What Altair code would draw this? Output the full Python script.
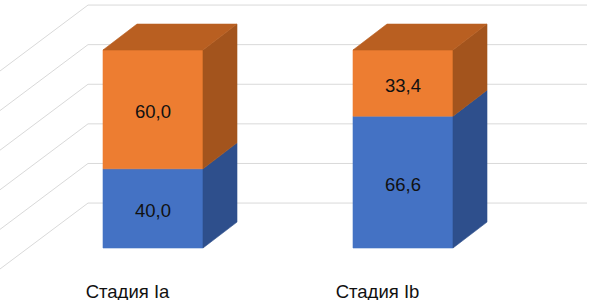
import altair as alt
import pandas as pd

categories = ["Стадия Ia", "Стадия Ib"]
blue_values = [40.0, 66.6]
orange_values = [60.0, 33.4]
tick_values = [0, 20, 40, 60, 80, 100]

# projection / style constants (data units)
BAR_W = 0.4
DX, DY = 0.136, 13.1          # bar depth offset
WALL_DY = 22.7                # back wall offset
WALL_X, WALL_X2 = -0.26, 1.736
SIDE_DX, SIDE_DY = -0.352, -33.3
LABEL_DX, LABEL_Y = -0.102, -25.0

XDOM = [-0.612, 1.752]
YDOM = [-26.26, 125.25]

colors = {
    "blue_front": "#4472C4", "orange_front": "#ED7D31",
    "blue_side": "#2E4F8C", "orange_side": "#A3541D",
    "orange_top": "#B95F21",
}

fmt = lambda v: f"{v:.1f}".replace(".", ",")

front, side, top, labels = [], [], [], []
for i, cat in enumerate(categories):
    segs = [("blue", 0.0, blue_values[i]),
            ("orange", blue_values[i], blue_values[i] + orange_values[i])]
    for s, lo, hi in segs:
        front.append(dict(x=i - BAR_W / 2, x2=i + BAR_W / 2, y=lo, y2=hi, face=f"{s}_front"))
        sid = f"{cat}-{s}"
        side.append(dict(id=sid, x=i + BAR_W / 2, lo=lo, hi=hi, face=f"{s}_side"))
        side.append(dict(id=sid, x=i + BAR_W / 2 + DX, lo=lo + DY, hi=hi + DY, face=f"{s}_side"))
        labels.append(dict(x=i, y=(lo + hi) / 2, text=fmt(hi - lo)))
    ttop = segs[-1][2]
    top.append(dict(id=cat, y=ttop, xl=i - BAR_W / 2, xr=i + BAR_W / 2, face="orange_top"))
    top.append(dict(id=cat, y=ttop + DY, xl=i - BAR_W / 2 + DX, xr=i + BAR_W / 2 + DX, face="orange_top"))

grid_h = pd.DataFrame([dict(x=WALL_X, x2=WALL_X2, y=v + WALL_DY) for v in tick_values])
grid_d = pd.DataFrame([dict(x=WALL_X, y=v + WALL_DY, x2=WALL_X + SIDE_DX, y2=v + WALL_DY + SIDE_DY)
                       for v in tick_values])
cat_df = pd.DataFrame([dict(x=i + LABEL_DX, y=LABEL_Y, text=c) for i, c in enumerate(categories)])

xs = alt.Scale(domain=XDOM, nice=False, zero=False)
ys = alt.Scale(domain=YDOM, nice=False, zero=False)
cs = alt.Scale(domain=list(colors.keys()), range=list(colors.values()))
color = alt.Color("face:N", scale=cs, legend=None)

gh = alt.Chart(grid_h).mark_rule(color="#D9D9D9", strokeWidth=1).encode(
    x=alt.X("x:Q", scale=xs, axis=None), x2="x2:Q", y=alt.Y("y:Q", scale=ys, axis=None))
gd = alt.Chart(grid_d).mark_rule(color="#D9D9D9", strokeWidth=1).encode(
    x=alt.X("x:Q", scale=xs, axis=None), x2="x2:Q",
    y=alt.Y("y:Q", scale=ys, axis=None), y2="y2:Q")

fr = alt.Chart(pd.DataFrame(front)).mark_rect(strokeWidth=0.6).encode(
    x=alt.X("x:Q", scale=xs, axis=None), x2="x2:Q",
    y=alt.Y("y:Q", scale=ys, axis=None), y2="y2:Q",
    color=color, stroke=alt.Stroke("face:N", scale=cs, legend=None))
sd = alt.Chart(pd.DataFrame(side)).mark_area(orient="vertical", strokeWidth=0.6).encode(
    x=alt.X("x:Q", scale=xs, axis=None),
    y=alt.Y("lo:Q", scale=ys, axis=None), y2="hi:Q",
    detail="id:N", color=color, stroke=alt.Stroke("face:N", scale=cs, legend=None))
tp = alt.Chart(pd.DataFrame(top)).mark_area(orient="horizontal", strokeWidth=0.6).encode(
    y=alt.Y("y:Q", scale=ys, axis=None),
    x=alt.X("xl:Q", scale=xs, axis=None), x2="xr:Q",
    detail="id:N", color=color, stroke=alt.Stroke("face:N", scale=cs, legend=None))

lb = alt.Chart(pd.DataFrame(labels)).mark_text(
    font="Liberation Sans", fontSize=18.5, color="#111111", baseline="alphabetic", dy=8.5
).encode(x=alt.X("x:Q", scale=xs, axis=None), y=alt.Y("y:Q", scale=ys, axis=None), text="text:N")
cl = alt.Chart(cat_df).mark_text(
    font="Liberation Sans", fontSize=18.5, color="#111111", baseline="alphabetic"
).encode(x=alt.X("x:Q", scale=xs, axis=None), y=alt.Y("y:Q", scale=ys, axis=None), text="text:N")

chart = alt.layer(gh, gd, fr, sd, tp, lb, cl).properties(
    width=591, height=300, padding=0, autosize=alt.AutoSizeParams(type="none"),
    background="white"
).configure_view(stroke=None)

chart.save("out.html", embed_options={"renderer": "svg", "actions": False})
